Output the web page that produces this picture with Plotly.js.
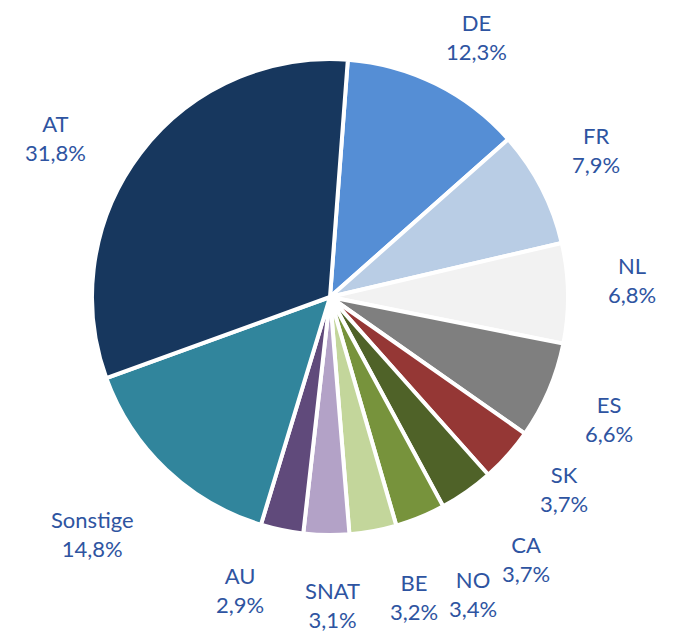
<!DOCTYPE html>
<html>
<head>
<meta charset="utf-8">
<script src="https://cdn.plot.ly/plotly-3.0.1.min.js"></script>
<style>html,body{margin:0;padding:0;background:#fff;}#chart{width:682px;height:633px;}</style>
</head>
<body>
<div id="chart"></div>
<script>
// Data
var categories = ['DE', 'FR', 'NL', 'ES', 'SK', 'CA', 'NO', 'BE', 'SNAT', 'AU', 'Sonstige', 'AT'];
var shares = [12.3, 7.9, 6.8, 6.6, 3.7, 3.7, 3.4, 3.2, 3.1, 2.9, 14.8, 31.8];

// Styles
var sliceColors = ['#558ED5', '#B9CDE5', '#F2F2F2', '#7F7F7F', '#953735', '#4F6228',
                   '#77933C', '#C3D69B', '#B3A2C7', '#604A7B', '#31859C', '#17375E'];
// label centre positions in pixels (layout only)
var labelPx = [[476, 37], [596, 150], [632, 280], [609, 419], [564, 489], [526, 559],
               [473, 594], [414, 597], [332, 605], [240, 590], [92, 534], [55, 138]];

var W = 682, H = 633;
var cx = 330, cy = 297, R = 238;

var annotations = categories.map(function (c, i) {
  return {
    xref: 'paper', yref: 'paper',
    x: labelPx[i][0] / W, y: 1 - labelPx[i][1] / H,
    xanchor: 'center', yanchor: 'middle',
    text: c + '<br>' + shares[i].toFixed(1).replace('.', ',') + '%',
    showarrow: false,
    align: 'center',
    font: {family: 'Lato, "Open Sans", sans-serif', size: 22, color: '#2E54A1'}
  };
});

var trace = {
  type: 'pie',
  labels: categories,
  values: shares,
  sort: false,
  direction: 'clockwise',
  rotation: 4.3,
  textinfo: 'none',
  hoverinfo: 'none',
  marker: {colors: sliceColors, line: {color: '#FFFFFF', width: 4}},
  domain: {x: [(cx - R) / W, (cx + R) / W], y: [1 - (cy + R) / H, 1 - (cy - R) / H]},
  showlegend: false
};

Plotly.newPlot('chart', [trace], {
  width: W, height: H,
  margin: {l: 0, r: 0, t: 0, b: 0},
  paper_bgcolor: '#FFFFFF',
  showlegend: false,
  annotations: annotations
}, {staticPlot: true});
</script>
</body>
</html>
